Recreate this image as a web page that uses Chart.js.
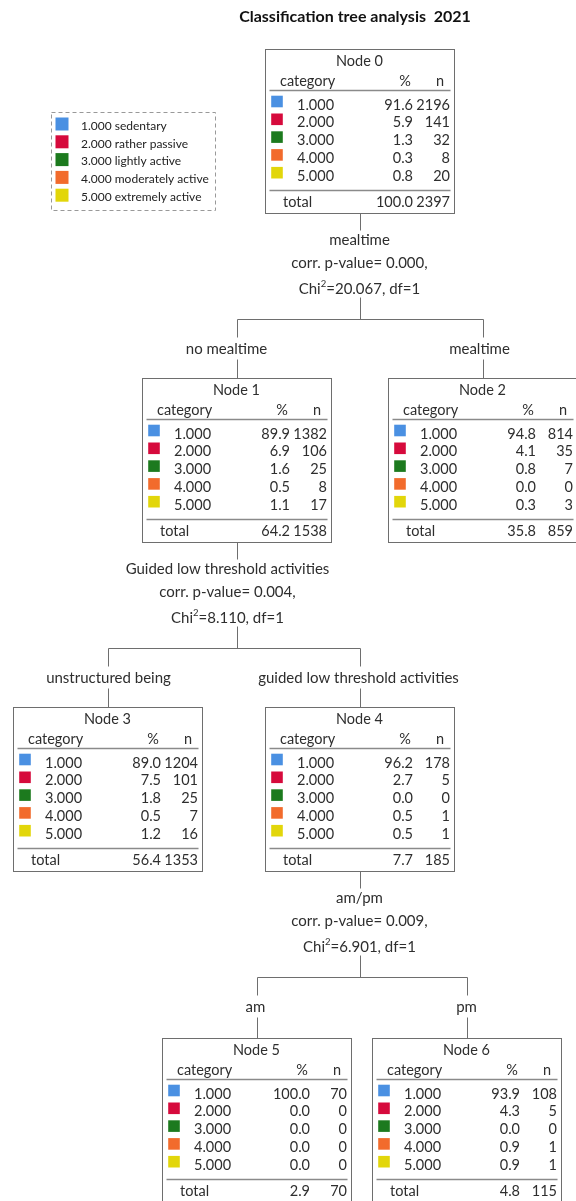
<!DOCTYPE html>
<html>
<head>
<meta charset="utf-8">
<script src="https://cdn.jsdelivr.net/npm/chart.js@4.4.1/dist/chart.umd.min.js"></script>
<style>
  html, body { margin: 0; padding: 0; background: #fff; }
  canvas { display: block; }
</style>
</head>
<body>
<canvas id="treeChart" width="576" height="1201"></canvas>
<script>
const titleText = 'Classification tree analysis  2021';
const categories = ['1.000', '2.000', '3.000', '4.000', '5.000'];
const categoryNames = ['sedentary', 'rather passive', 'lightly active', 'moderately active', 'extremely active'];
const categoryColors = ['#4a90e2', '#d60a3c', '#1c7a1e', '#f26b2c', '#e2d60a'];

const nodePct = [
    [91.6, 5.9, 1.3, 0.3, 0.8],
    [89.9, 6.9, 1.6, 0.5, 1.1],
    [94.8, 4.1, 0.8, 0.0, 0.3],
    [89.0, 7.5, 1.8, 0.5, 1.2],
    [96.2, 2.7, 0.0, 0.5, 0.5],
    [100.0, 0.0, 0.0, 0.0, 0.0],
    [93.9, 4.3, 0.0, 0.9, 0.9]
];
const nodeN = [
    [2196, 141, 32, 8, 20],
    [1382, 106, 25, 8, 17],
    [814, 35, 7, 0, 3],
    [1204, 101, 25, 7, 16],
    [178, 5, 0, 1, 1],
    [70, 0, 0, 0, 0],
    [108, 5, 0, 1, 1]
];
const totalPct = [100.0, 64.2, 35.8, 56.4, 7.7, 2.9, 4.8];
const totalN = [2397, 1538, 859, 1353, 185, 70, 115];

const splitParent = [0, 1, 4];
const splitChildren = [[1, 2], [3, 4], [5, 6]];
const splitVariable = ['mealtime', 'Guided low threshold activities', 'am/pm'];
const splitPValue = ['0.000', '0.004', '0.009'];
const splitChi2 = ['20.067', '8.110', '6.901'];
const splitDf = [1, 1, 1];
const branchLabels = [['no mealtime', 'mealtime'], ['unstructured being', 'guided low threshold activities'], ['am', 'pm']];

// Layout (left, top of each node box)
const nodeBox = [[265, 49], [142, 378], [388, 378], [13, 707], [265, 707], [162, 1038], [372, 1038]];
const BOX_W = 189, BOX_H = 164, ROW0 = 56, ROW_STEP = 17.8;
const LEGEND = { left: 51, top: 112, right: 215, bottom: 210, row0: 126, step: 17.8 };
const splitTextShift = [0, -9, 0];
const branchShift = [[-10, -3], [1, -1], [-1, 0]];
const FONT = 'Lato, "Open Sans", sans-serif';
const TEXT = '#2e2e2e';
const LINE = '#6e6e6e';

// one scatter dataset per category: the coloured squares in every node and in the legend
const squareSets = categories.map((c, ci) => {
    const pts = nodeBox.map(b => ({ x: b[0] + 12, y: b[1] + ROW0 + ci * ROW_STEP - 3.5 }));
    pts.push({ x: 62, y: LEGEND.row0 + ci * LEGEND.step - 2 });
    return {
        label: c + ' ' + categoryNames[ci],
        data: pts,
        pointStyle: 'rect',
        pointRadius: ctx => ctx.dataIndex === nodeBox.length ? 9.2 : 8.2,
        pointHoverRadius: 0,
        backgroundColor: categoryColors[ci],
        borderWidth: 0,
        showLine: false
    };
});

const treePlugin = {
    id: 'treeDraw',
    beforeDatasetsDraw(chart) {
        const ctx = chart.ctx;
        const X = v => chart.scales.x.getPixelForValue(v);
        const Y = v => chart.scales.y.getPixelForValue(v);
        const line = (x1, y1, x2, y2, w, col) => {
            ctx.beginPath();
            ctx.lineWidth = w || 1;
            ctx.strokeStyle = col || LINE;
            ctx.moveTo(Math.round(X(x1)) + 0.5, Math.round(Y(y1)) + 0.5);
            ctx.lineTo(Math.round(X(x2)) + 0.5, Math.round(Y(y2)) + 0.5);
            ctx.stroke();
        };
        const text = (s, x, y, align) => {
            ctx.textAlign = align || 'center';
            ctx.fillText(s, X(x), Y(y));
        };
        ctx.save();
        ctx.textBaseline = 'middle';

        // title
        ctx.fillStyle = '#111';
        ctx.font = 'bold 16px ' + FONT;
        text(titleText, 355, 17);

        // legend
        ctx.setLineDash([4, 3]);
        ctx.strokeStyle = '#999';
        ctx.lineWidth = 1;
        ctx.strokeRect(Math.round(X(LEGEND.left)) + 0.5, Math.round(Y(LEGEND.top)) + 0.5,
            X(LEGEND.right) - X(LEGEND.left), Y(LEGEND.bottom) - Y(LEGEND.top));
        ctx.setLineDash([]);
        ctx.fillStyle = '#222';
        ctx.font = '12px ' + FONT;
        categories.forEach((c, i) => text(c + ' ' + categoryNames[i], 81, LEGEND.row0 + i * LEGEND.step, 'left'));

        // nodes
        nodeBox.forEach((b, i) => {
            const L = b[0], T = b[1];
            ctx.strokeStyle = LINE;
            ctx.lineWidth = 1;
            ctx.strokeRect(Math.round(X(L)) + 0.5, Math.round(Y(T)) + 0.5, BOX_W, BOX_H);
            ctx.fillStyle = TEXT;
            ctx.font = '14.5px ' + FONT;
            text('Node ' + i, L + BOX_W / 2, T + 12);
            text('category', L + 15, T + 32, 'left');
            text('%', L + 140, T + 32);
            text('n', L + 175, T + 32);
            line(L + 4, T + 41, L + 185, T + 41, 1.5, '#8a8a8a');
            categories.forEach((c, r) => {
                const y = T + ROW0 + r * ROW_STEP;
                text(c, L + 32, y, 'left');
                text(nodePct[i][r].toFixed(1), L + 148, y, 'right');
                text(String(nodeN[i][r]), L + 185, y, 'right');
            });
            line(L + 4, T + 141, L + 185, T + 141, 1.5, '#8a8a8a');
            text('total', L + 18, T + 153, 'left');
            text(totalPct[i].toFixed(1), L + 148, T + 153, 'right');
            text(String(totalN[i]), L + 185, T + 153, 'right');
        });

        // splits
        const cx = i => nodeBox[i][0] + BOX_W / 2;
        splitParent.forEach((p, s) => {
            const px = cx(p), B = nodeBox[p][1] + BOX_H;
            const tx = px + splitTextShift[s];
            ctx.fillStyle = TEXT;
            ctx.font = '15px ' + FONT;
            line(px, B, px, B + 17);
            text(splitVariable[s], tx, B + 27);
            text('corr. p-value= ' + splitPValue[s] + ',', tx, B + 50);
            // Chi² with superscript
            const a = 'Chi', sup = '2', rest = '=' + splitChi2[s] + ', df=' + splitDf[s];
            const wa = ctx.measureText(a).width, wr = ctx.measureText(rest).width;
            ctx.font = '9.5px ' + FONT;
            const ws = ctx.measureText(sup).width;
            const x0 = X(tx) - (wa + ws + wr) / 2, yc = Y(B + 76);
            ctx.textAlign = 'left';
            ctx.fillText(sup, x0 + wa, yc - 5);
            ctx.font = '15px ' + FONT;
            ctx.fillText(a, x0, yc);
            ctx.fillText(rest, x0 + wa + ws, yc);

            line(px, B + 84, px, B + 106);
            const kids = splitChildren[s];
            line(cx(kids[0]), B + 106, cx(kids[1]), B + 106);
            kids.forEach((k, j) => {
                const kx = cx(k);
                line(kx, B + 106, kx, B + 124);
                text(branchLabels[s][j], kx + branchShift[s][j], B + 136);
                line(kx, B + 146, kx, nodeBox[k][1]);
            });
        });
        ctx.restore();
    }
};

new Chart(document.getElementById('treeChart').getContext('2d'), {
    type: 'scatter',
    data: { datasets: squareSets },
    options: {
        responsive: false,
        devicePixelRatio: 1,
        animation: false,
        layout: { padding: 0, autoPadding: false },
        plugins: {
            legend: { display: false },
            tooltip: { enabled: false }
        },
        scales: {
            x: { type: 'linear', min: 0, max: 576, display: false },
            y: { type: 'linear', min: 0, max: 1201, reverse: true, display: false }
        }
    },
    plugins: [treePlugin]
});
</script>
</body>
</html>
